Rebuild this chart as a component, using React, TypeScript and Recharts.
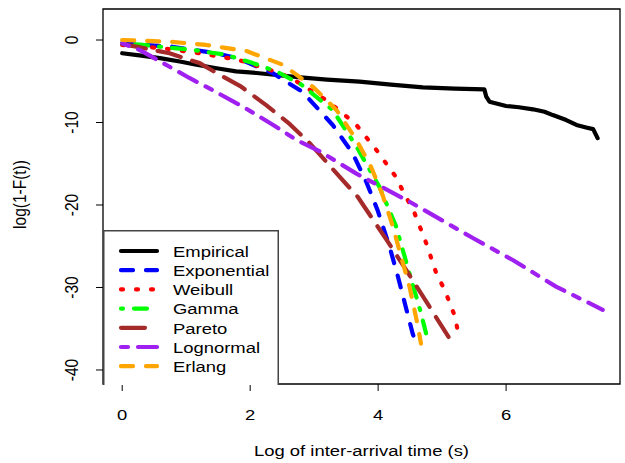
import { LineChart, Line, XAxis, YAxis, ReferenceArea, Legend } from "recharts";

// values: [log inter-arrival time, log(1-F(t))]
const empirical: [number, number][] = [
    [0, -1.6], [0.3, -1.9], [0.59, -2.2], [0.9, -2.6], [1.16, -3.0], [1.5, -3.45],
    [1.78, -3.8], [2.1, -4.0], [2.41, -4.24], [2.83, -4.57], [3.2, -4.8], [3.71, -5.05],
    [4.2, -5.4], [4.7, -5.74], [5.2, -5.9], [5.66, -5.98], [5.69, -6.87], [5.74, -7.48],
    [6.0, -8.0], [6.2, -8.15], [6.42, -8.4], [6.6, -8.7], [6.73, -9.1], [6.94, -9.7],
    [7.1, -10.3], [7.25, -10.6], [7.36, -10.8], [7.43, -11.9],
]
const exponential: [number, number][] = [
    [0, -0.4], [0.77, -0.8], [1.47, -1.6], [1.8, -2.2], [2.35, -4.0], [2.82, -6.3],
    [3.29, -10.3], [3.6, -13.7], [3.82, -17.3], [3.99, -20.6], [4.18, -25.1],
    [4.31, -28.7], [4.43, -32.3], [4.54, -35.6], [4.59, -36.7],
]
const weibull: [number, number][] = [
    [0, -0.6], [0.64, -1.0], [1.21, -1.6], [1.81, -2.4], [2.38, -3.8], [2.64, -4.6],
    [3.19, -7.3], [3.45, -8.9], [3.66, -10.3], [3.97, -13.3], [4.26, -16.4], [4.57, -21.0],
    [4.75, -24.6], [4.91, -28.3], [5.04, -30.3], [5.2, -33.5], [5.26, -35.9],
]
const gamma: [number, number][] = [
    [0, -0.4], [0.33, -0.6], [1.1, -1.2], [1.63, -1.8], [2.04, -2.8], [2.41, -3.8],
    [2.8, -5.4], [3.29, -8.5], [3.66, -12.9], [4.02, -17.8], [4.28, -22.6], [4.49, -28.3],
    [4.67, -33.1], [4.75, -35.6],
]
const pareto: [number, number][] = [
    [0, -0.5], [0.22, -0.8], [0.74, -1.6], [1.21, -2.8], [1.52, -4.2], [1.86, -5.66],
    [2.25, -7.9], [2.62, -10.2], [2.93, -12.5], [3.4, -16.6], [3.68, -19.0], [4.13, -24.2],
    [4.44, -27.9], [4.8, -32.3], [5.1, -36.0],
]
const lognormal: [number, number][] = [
    [0, -0.4], [0.27, -1.2], [0.64, -2.8], [1.05, -4.6], [1.37, -5.9], [1.89, -8.1],
    [2.36, -10.3], [2.72, -12.1], [3.09, -13.5], [3.66, -16.2], [4.49, -19.6],
    [5.48, -24.0], [6.11, -26.7], [6.78, -29.9], [7.51, -32.7],
]
const erlang: [number, number][] = [
    [0, 0], [0.74, -0.2], [1.31, -0.6], [1.94, -1.33], [2.51, -3.0], [2.98, -5.66],
    [3.35, -8.5], [3.66, -12.1], [3.89, -15.4], [4.07, -18.8], [4.23, -22.6],
    [4.36, -26.3], [4.49, -29.9], [4.6, -33.9], [4.67, -36.8],
]

const xTicks = [0, 2, 4, 6]
const yTicks = [-40, -30, -20, -10, 0]

const SERIES = [
    { name: "Empirical", data: empirical, color: "#000000", dash: undefined },
    { name: "Exponential", data: exponential, color: "#0000ff", dash: "12 13" },
    { name: "Weibull", data: weibull, color: "#ff0000", dash: "2 13" },
    { name: "Gamma", data: gamma, color: "#00ff00", dash: "2 11 13 11" },
    { name: "Pareto", data: pareto, color: "#a52a2a", dash: "24 12" },
    { name: "Lognormal", data: lognormal, color: "#a020f0", dash: "7 10 20 10" },
    { name: "Erlang", data: erlang, color: "#ffa500", dash: "12 13" },
]

const FONT = "'Liberation Sans', Arial, sans-serif"
const FS = 15.5
const SX = 1.19 // the reference is stretched sideways a little

const toPoints = (d: [number, number][]) => d.map(([x, y]) => ({ x, y }))

function XTick(props: any) {
    const { x, y, payload } = props
    return (
        <text transform={`translate(${x},${y + 29}) scale(${SX},1)`} textAnchor="middle"
            fontFamily={FONT} fontSize={FS} fill="#000">
            {payload.value}
        </text>
    )
}

function YTick(props: any) {
    const { x, y, payload } = props
    return (
        <text transform={`translate(${x - 18.5},${y}) scale(${SX},1) rotate(-90)`} textAnchor="middle"
            fontFamily={FONT} fontSize={FS} fill="#000">
            {payload.value}
        </text>
    )
}

function LegendBox(props: any) {
    const names = (props.payload || []).map((p: any) => p.value)
    const items = SERIES.filter((s) => names.includes(s.name))
    return (
        <svg width={176} height={155} style={{ display: "block" }}>
            <rect x={0.75} y={0.75} width={174.5} height={160} fill="#fff" stroke="#444" strokeWidth={1.5} />
            {items.map((s, i) => {
                const cy = 21 + i * 19.2
                return (
                    <g key={s.name}>
                        <line x1={18} x2={54} y1={cy} y2={cy} stroke={s.color} strokeWidth={4.2}
                            strokeDasharray={s.dash} strokeLinecap="round" />
                        <text transform={`translate(70,${cy + 5.8}) scale(${SX},1)`}
                            fontFamily={FONT} fontSize={FS} fill="#000">
                            {s.name}
                        </text>
                    </g>
                )
            })}
        </svg>
    )
}

export default function App() {
    return (
        <div style={{ position: "fixed", left: 0, top: 0, background: "#fff" }}>
            <LineChart width={625} height={463} margin={{ top: 9, right: 5, bottom: 0, left: 0 }}>
                <XAxis dataKey="x" type="number" domain={[-0.3, 7.78]} ticks={xTicks}
                    allowDataOverflow axisLine={false} tickSize={7} tickMargin={0}
                    tickLine={{ stroke: "#000" }} height={79} tick={<XTick />}
                    label={({ viewBox }: any) => (
                        <text transform={`translate(${viewBox.x + viewBox.width / 2},456) scale(${SX},1)`}
                            textAnchor="middle" fontFamily={FONT} fontSize={FS} fill="#000">
                            Log of inter-arrival time (s)
                        </text>
                    )} />
                <YAxis type="number" domain={[-41.7, 3.76]} ticks={yTicks} allowDataOverflow
                    axisLine={false} tickSize={7} tickMargin={0} tickLine={{ stroke: "#000" }}
                    width={103} tick={<YTick />}
                    label={({ viewBox }: any) => (
                        <text transform={`translate(26,${viewBox.y + viewBox.height / 2 - 2}) scale(${SX},1) rotate(-90)`}
                            textAnchor="middle" fontFamily={FONT} fontSize={FS} fill="#000">
                            log(1-F(t))
                        </text>
                    )} />
                <ReferenceArea x1={-0.3} x2={7.78} y1={-41.7} y2={3.76} fill="none" stroke="#000"
                    strokeWidth={1.3} fillOpacity={0} />
                {SERIES.map((s) => (
                    <Line key={s.name} name={s.name} data={toPoints(s.data)} dataKey="y" type="linear"
                        stroke={s.color} strokeWidth={4.2} strokeDasharray={s.dash} strokeLinecap="round"
                        strokeLinejoin="round" dot={false} isAnimationActive={false} />
                ))}
                <Legend layout="horizontal" verticalAlign="middle" align="center" content={<LegendBox />}
                    wrapperStyle={{ position: "absolute", left: 103, top: 230, width: 176, height: 155 }} />
            </LineChart>
        </div>
    )
}
